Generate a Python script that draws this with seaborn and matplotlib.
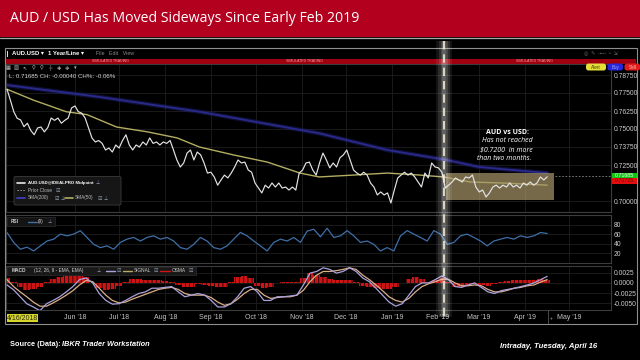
import numpy as np
import pandas as pd
import matplotlib
matplotlib.use("Agg")
import matplotlib.pyplot as plt
import matplotlib.dates as mdates
from matplotlib.patches import Rectangle, FancyBboxPatch
import seaborn as sns

# ---------------- data ----------------
start_date = "2018-04-16"
end_date = "2019-04-16"

price = [0.7776, 0.7700, 0.7620, 0.7574, 0.7563, 0.7516, 0.7540, 0.7490, 0.7460, 0.7507,
         0.7514, 0.7480, 0.7510, 0.7576, 0.7560, 0.7576, 0.7540, 0.7560, 0.7576, 0.7646,
         0.7660, 0.7620, 0.7610, 0.7576, 0.7507, 0.7438, 0.7410, 0.7420, 0.7400, 0.7354,
         0.7368, 0.7340, 0.7389, 0.7368, 0.7420, 0.7460, 0.7389, 0.7354, 0.7389, 0.7375,
         0.7410, 0.7389, 0.7438, 0.7400, 0.7410, 0.7389, 0.7410, 0.7400, 0.7420, 0.7354,
         0.7285, 0.7236, 0.7264, 0.7333, 0.7354, 0.7285, 0.7340, 0.7320, 0.7264, 0.7194,
         0.7200, 0.7167, 0.7110, 0.7146, 0.7180, 0.7160, 0.7194, 0.7236, 0.7285, 0.7264,
         0.7270, 0.7215, 0.7200, 0.7125, 0.7090, 0.7056, 0.7110, 0.7090, 0.7125, 0.7097,
         0.7125, 0.7090, 0.7097, 0.7076, 0.7097, 0.7076, 0.7194, 0.7215, 0.7264, 0.7270,
         0.7215, 0.7180,
         0.7264, 0.7333, 0.7285, 0.7230, 0.7264, 0.7236, 0.7300, 0.7320, 0.7354, 0.7285,
         0.7215, 0.7194, 0.7180, 0.7200, 0.7180, 0.7125, 0.7097, 0.7042, 0.7063, 0.7042,
         0.7056, 0.6986, 0.7076, 0.7160, 0.7180, 0.7200, 0.7180, 0.7194, 0.7167, 0.7132,
         0.7097, 0.7194, 0.7160, 0.7264, 0.7236, 0.7230, 0.7200, 0.7090, 0.7110, 0.7132,
         0.7160, 0.7146, 0.7132, 0.7167, 0.7160, 0.7180, 0.7097, 0.7063, 0.7076, 0.7028,
         0.7056, 0.7097, 0.7110, 0.7090, 0.7110, 0.7097, 0.7125, 0.7097, 0.7110, 0.7090,
         0.7125, 0.7110, 0.7132, 0.7110, 0.7125, 0.7167, 0.7146, 0.7168]

sma50_dates = ["2018-04-16", "2018-05-04", "2018-05-26", "2018-06-09", "2018-06-29",
               "2018-07-20", "2018-08-09", "2018-08-24", "2018-09-16", "2018-10-09",
               "2018-10-31", "2018-11-13", "2018-12-06", "2018-12-29", "2019-01-20",
               "2019-02-05", "2019-02-23", "2019-03-17", "2019-04-16"]
sma50 = [0.7776, 0.7700, 0.7620, 0.7600, 0.7514, 0.7480, 0.7438, 0.7375, 0.7320, 0.7270,
         0.7194, 0.7167, 0.7180, 0.7194, 0.7180, 0.7167, 0.7132, 0.7125, 0.7110]

sma200_dates = ["2018-04-12", "2018-06-18", "2018-08-24", "2018-11-13", "2018-12-29",
                "2019-02-07", "2019-03-01", "2019-04-16"]
sma200 = [0.7810, 0.7722, 0.7620, 0.7470, 0.7354, 0.7285, 0.7236, 0.7194]

rsi = [64, 43, 28.6, 33, 25, 35.7, 46, 50, 60.7, 57, 60.7, 67.8, 53.6, 39, 32, 35.7,
       28.6, 43, 50, 53.6, 46, 53.6, 57, 50, 53.6, 46, 32, 28.6, 39, 53.6, 46, 32, 28.6,
       35.7, 50, 64.3, 57, 46, 35.7, 25, 43, 50, 46, 53.6, 43, 67, 71, 55,
       73, 53.6, 57, 68, 57, 43, 46, 39, 25, 32, 25, 57, 68, 60.7, 53.6, 46, 68, 60.7,
       39, 43, 57, 60.7, 53.6, 46, 35.7, 46, 50, 53.6, 50, 57, 53.6, 57, 64, 62]

macd = [-0.0005, -0.0017, -0.0034, -0.0051, -0.0059, -0.0068, -0.0051, -0.0043, -0.0034, -0.0022,
        -0.0009, 0.0008, 0.0012, 0.0000, -0.0026, -0.0043, -0.0052, -0.0051, -0.0043, -0.0034,
        -0.0026, -0.0022, -0.0013, -0.0013, -0.0011, -0.0009, -0.0022, -0.0034, -0.0030, -0.0026,
        -0.0030, -0.0043, -0.0059, -0.0059, -0.0051, -0.0034, -0.0013, -0.0009, -0.0022, -0.0043,
        -0.0043, -0.0034, -0.0034, -0.0032, -0.0030, -0.0005, 0.0024, 0.0028,
        0.0037, 0.0033, 0.0024, 0.0028, 0.0037, 0.0028, 0.0012, 0.0003, -0.0013, -0.0030,
        -0.0047, -0.0057, -0.0051, -0.0030, -0.0009, 0.0000, 0.0000, 0.0008, 0.0017, 0.0008,
        -0.0009, -0.0011, -0.0005, 0.0000, -0.0011, -0.0022, -0.0026, -0.0019, -0.0016, -0.0013,
        -0.0009, -0.0005, 0.0000, 0.0008, 0.0016]

signal = [0.0008, -0.0009, -0.0022, -0.0034, -0.0047, -0.0057, -0.0057, -0.0049, -0.0040, -0.0030,
          -0.0019, -0.0005, 0.0006, 0.0003, -0.0013, -0.0030, -0.0043, -0.0049, -0.0047, -0.0040,
          -0.0034, -0.0028, -0.0022, -0.0016, -0.0013, -0.0011, -0.0016, -0.0026, -0.0030, -0.0030,
          -0.0030, -0.0036, -0.0047, -0.0055, -0.0051, -0.0040, -0.0026, -0.0016, -0.0016, -0.0030,
          -0.0038, -0.0036, -0.0034, -0.0034, -0.0030, -0.0018, 0.0003, 0.0019,
          0.0028, 0.0028, 0.0030, 0.0033, 0.0037, 0.0033, 0.0019, 0.0008, -0.0005, -0.0019,
          -0.0034, -0.0043, -0.0047, -0.0038, -0.0022, -0.0009, -0.0002, 0.0003, 0.0009, 0.0009,
          0.0000, -0.0007, -0.0007, -0.0005, -0.0007, -0.0016, -0.0022, -0.0022, -0.0018, -0.0013,
          -0.0011, -0.0007, -0.0005, 0.0002, 0.0008]

osma = [0.0012, 0.0003, -0.0011, -0.0017, -0.0016, -0.0011, 0.0003, 0.0009, 0.0014, 0.0016,
        0.0016, 0.0018, 0.0014, 0.0000, -0.0013, -0.0017, -0.0016, -0.0008, 0.0003, 0.0009,
        0.0009, 0.0008, 0.0008, 0.0006, 0.0004, 0.0003, -0.0005, -0.0011, -0.0009, -0.0002,
        -0.0005, -0.0008, -0.0011, -0.0011, 0.0003, 0.0014, 0.0018, 0.0012, -0.0008, -0.0013,
        -0.0009, 0.0000, 0.0001, 0.0002, 0.0003, 0.0012, 0.0025, 0.0020,
        0.0014, 0.0009, 0.0008, 0.0006, 0.0008, 0.0001, -0.0008, -0.0011, -0.0013, -0.0016,
        -0.0016, -0.0011, 0.0000, 0.0009, 0.0014, 0.0009, 0.0003, 0.0008, 0.0012, 0.0001,
        -0.0011, -0.0011, -0.0005, -0.0002, -0.0005, -0.0008, -0.0002, 0.0003, 0.0005, 0.0006,
        0.0006, 0.0006, 0.0008, 0.0009, 0.0008]

last_price = 0.71685
prior_close = 0.71725
box_low, box_high = 0.7007, 0.7194

month_ticks = ["2018-06-01", "2018-07-01", "2018-08-01", "2018-09-01", "2018-10-01",
               "2018-11-01", "2018-12-01", "2019-01-01", "2019-02-01", "2019-03-01",
               "2019-04-01", "2019-05-01"]
month_labels = ["Jun '18", "Jul '18", "Aug '18", "Sep '18", "Oct '18", "Nov '18",
                "Dec '18", "Jan '19", "Feb '19", "Mar '19", "Apr '19", "May '19"]
price_ticks = [0.7875, 0.7750, 0.7625, 0.7500, 0.7375, 0.7250, 0.7000]
rsi_ticks = [20, 40, 60, 80]
macd_ticks = [0.0025, 0.0, -0.0025, -0.0050]
macd_labels = ["0.0025", "0.0000", "-0.0025", "-0.0050"]

# ---------------- style ----------------
sns.set_style("dark")
plt.rcParams["font.family"] = ["Liberation Sans", "DejaVu Sans"]
plt.rcParams["hatch.linewidth"] = 0.5

W, H = 640, 360
fig = plt.figure(figsize=(W / 100, H / 100), dpi=100, facecolor="black")


def rect(x0, y0, x1, y1):
    return [x0 / W, 1 - y1 / H, (x1 - x0) / W, (y1 - y0) / H]


# background layer
bg = fig.add_axes([0, 0, 1, 1], zorder=0)
bg.set_xlim(0, W)
bg.set_ylim(H, 0)
bg.set_facecolor("black")
bg.axis("off")
bg.add_patch(Rectangle((0, 0), W, 37, color="#b3001e", lw=0))
bg.plot([0, W], [37.6, 37.6], color="#a8a8a8", lw=0.9)
bg.text(10, 18.5, "AUD / USD Has Moved Sideways Since Early Feb 2019", color="white",
        fontsize=10.2, family=["Open Sans", "DejaVu Sans"], va="center", ha="left")
bg.add_patch(Rectangle((5, 48), 632, 276, fill=False, ec="#8e8e8e", lw=0.8))
bg.add_patch(Rectangle((6, 59), 630, 4.5, color="#a0000f", lw=0))
for x in (110, 305, 535):
    bg.text(x, 61.3, "SIMULATED TRADING", fontsize=2.6, color="#f0a0a0", ha="center", va="center")

# ---------------- panels ----------------
t0 = pd.Timestamp(start_date)
t1 = pd.Timestamp(end_date)
px_per_day = 1.48


def day(d):
    return t0 + pd.Timedelta(days=d)


xmin = day(-1 / px_per_day)
xmax = day((611 - 7) / px_per_day)

ax_p = fig.add_axes(rect(6, 64, 611, 212), zorder=1)
ax_r = fig.add_axes(rect(6, 215, 611, 263), zorder=1, sharex=ax_p)
ax_m = fig.add_axes(rect(6, 266, 611, 310), zorder=1, sharex=ax_p)

df_p = pd.DataFrame({"date": pd.date_range(t0, t1, periods=len(price)), "value": price})
df_s50 = pd.DataFrame({"date": pd.to_datetime(sma50_dates), "value": sma50})
df_s200 = pd.DataFrame({"date": pd.to_datetime(sma200_dates), "value": sma200})
df_rsi = pd.DataFrame({"date": pd.date_range(t0, t1, periods=len(rsi)), "value": rsi})
ind_dates = pd.date_range(t0, t1, periods=len(macd))
df_macd = pd.DataFrame({"date": ind_dates, "macd": macd, "signal": signal, "osma": osma})

# price panel
sns.lineplot(data=df_s200, x="date", y="value", ax=ax_p, color="#22227a", lw=3.2, alpha=0.45,
             estimator=None, zorder=2)
sns.lineplot(data=df_s200, x="date", y="value", ax=ax_p, color="#2a2a8c", lw=1.3,
             estimator=None, zorder=2)
sns.lineplot(data=df_s50, x="date", y="value", ax=ax_p, color="#b3ae62", lw=1.0,
             estimator=None, zorder=3)
sns.lineplot(data=df_p, x="date", y="value", ax=ax_p, color="#e4e4e4", lw=0.85,
             estimator=None, zorder=4)
ax_p.add_patch(Rectangle((mdates.date2num(day(296.6)), box_low), 73.0, box_high - box_low,
                         facecolor="#a8976a", alpha=0.7, lw=0, zorder=3.5))
ax_p.hlines(prior_close, day(370), xmax, color="#8a8a8a", lw=0.6, linestyles=(0, (2, 2)), zorder=3)
ax_p.set_ylim(0.70 - 11 / 1440, 0.70 + 137 / 1440)
ax_p.set_yticks(price_ticks)
ax_p.set_yticklabels([f"{v:.5f}" for v in price_ticks])

# RSI panel
sns.lineplot(data=df_rsi, x="date", y="value", ax=ax_r, color="#3f6fa8", lw=0.9, estimator=None)
ax_r.set_ylim(-0.6, 101.2)
ax_r.set_yticks(rsi_ticks)

# MACD panel (OSMA histogram: red bars with thin dark stripes)
ax_m.bar(df_macd["date"], df_macd["osma"], width=365 / (len(osma) - 1), facecolor="#cc1414",
         edgecolor="black", hatch="||||", lw=0, zorder=2)
sns.lineplot(data=df_macd, x="date", y="signal", ax=ax_m, color="#dcae8a", lw=0.9,
             estimator=None, zorder=3)
sns.lineplot(data=df_macd, x="date", y="macd", ax=ax_m, color="#aaa2dc", lw=0.9,
             estimator=None, zorder=3)
ax_m.set_ylim(-0.00664, 0.00414)
ax_m.set_yticks(macd_ticks)
ax_m.set_yticklabels(macd_labels)

for ax in (ax_p, ax_r, ax_m):
    ax.set_facecolor("black")
    for s in ax.spines.values():
        s.set_visible(True)
        s.set_color("#3c3c3c")
        s.set_linewidth(0.8)
    ax.grid(True, color="#1e1e1e", lw=0.6)
    ax.yaxis.tick_right()
    ax.tick_params(axis="y", length=0, pad=2, labelsize=4.9, labelcolor="#cccccc",
                   labelleft=False, labelright=True)
    ax.tick_params(axis="x", length=0)
    ax.set_xlabel("")
    ax.set_ylabel("")

ax_m.set_xticks(pd.to_datetime(month_ticks))
ax_m.set_xticklabels(month_labels)
ax_m.tick_params(axis="x", labelsize=5, labelcolor="#c4c4c4", pad=3.2)
ax_p.tick_params(axis="x", labelbottom=False)
ax_r.tick_params(axis="x", labelbottom=False)
ax_p.set_xlim(xmin, xmax)

# ---------------- overlay ----------------
ov = fig.add_axes([0, 0, 1, 1], zorder=10)
ov.set_xlim(0, W)
ov.set_ylim(H, 0)
ov.axis("off")
ov.patch.set_visible(False)

# glowing dashed marker line
gx = 444
for w, a in ((16, 0.08), (11, 0.11), (7, 0.13), (4, 0.14)):
    ov.add_patch(Rectangle((gx - w / 2, 41), w, 276, color="white", alpha=a, lw=0))
ov.plot([gx, gx], [41, 317], color="#f4ecd2", lw=1.2, dashes=(5, 3))

# toolbar
ov.add_patch(Rectangle((6.5, 50.5), 1.5, 6, color="#e0e0e0", lw=0))
ov.text(12, 53.7, "AUD.USD \u25be", fontsize=4.3, color="white", weight="bold", va="center")
ov.text(48, 53.7, "1 Year/Line \u25be", fontsize=4.3, color="white", weight="bold", va="center")
ov.text(96, 53.7, "File   Edit   View", fontsize=3.8, color="#8a8a8a", va="center")
ov.text(584, 53.7, "\u25ce  \u270e  -\u22b7-  \u25ab  \u21f2", fontsize=3.6, color="#6a6a6a", va="center")
icons = ["\u25a6", "\u25a7", "\u2196", "\u26b2", "\u26b2", "\u253c", "\u271a", "\u2725", "\u25be"]
for i, ic in enumerate(icons):
    ov.text(8 + i * 8.4, 68, ic, fontsize=3.8, color="#b8b8b8", ha="center", va="center")
ov.text(7, 76.5, "\u00b7L: 0.71685 CH: -0.00040 CH%: -0.06%", fontsize=4.4, color="#d4d4d4", va="center")

# order buttons
for x0, x1, fc, lab, tc in ((586, 606, "#e4df3a", "Alert", "#3a3a00"),
                            (607.5, 623, "#2626dc", "Buy", "#a8a8ff"),
                            (624.5, 640, "#de1e1e", "Sell", "#ffc0c0")):
    ov.add_patch(FancyBboxPatch((x0, 63.5), x1 - x0, 7, boxstyle="round,pad=0,rounding_size=2.5",
                                fc=fc, ec="none"))
    ov.text((x0 + x1) / 2, 67.2, lab, fontsize=3.3, color=tc, ha="center", va="center")

# last / prior close boxes
ov.add_patch(Rectangle((612, 172.5), 25, 5.5, color="#14c414", lw=0))
ov.text(624.5, 175.3, f"{last_price:.5f}", fontsize=3.8, color="#eaffea", ha="center", va="center")
ov.add_patch(Rectangle((612, 178), 25, 6, color="#e01010", lw=0))
ov.text(624.5, 181, f"{prior_close:.5f}", fontsize=3.8, color="#7a0000", ha="center", va="center")

# legend box
ov.add_patch(FancyBboxPatch((14, 176.5), 107, 28.5, boxstyle="round,pad=0,rounding_size=1.5",
                            fc="#161616", ec="#3c3c3c", lw=0.6))
ov.plot([17, 25], [183, 183], color="#e8e8e8", lw=1.2)
ov.text(27.5, 183, "AUD.USD@IDEALPRO Midpoint", fontsize=3.2, color="white", weight="bold", va="center")
ov.text(96, 183, "\u22a5", fontsize=3.4, color="#9fb0c8", va="center")
ov.plot([17, 25], [190, 190], color="#9a9a9a", lw=0.7, ls=(0, (1.5, 1.5)))
ov.text(27.5, 190, "Prior Close", fontsize=3.4, color="#bdbdbd", va="center")
ov.text(56, 190, "\u2611", fontsize=3.6, color="#9fb0c8", va="center")
ov.plot([17, 25], [198, 198], color="#3a3ab0", lw=1.4)
ov.text(27.5, 198, "SMA(200)", fontsize=3.4, color="#bdbdbd", va="center")
ov.text(55, 198, "\u2611", fontsize=3.6, color="#9fb0c8", va="center")
ov.text(60.5, 198, "\u22a5", fontsize=3.4, color="#9fb0c8", va="center")
ov.plot([65, 73], [198, 198], color="#b3ae62", lw=1.2)
ov.text(75, 198, "SMA(50)", fontsize=3.4, color="#bdbdbd", va="center")
ov.text(98, 198, "\u2611", fontsize=3.6, color="#9fb0c8", va="center")
ov.text(104, 198, "\u22a5", fontsize=3.4, color="#9fb0c8", va="center")

# annotation
afam = ["Open Sans", "DejaVu Sans"]
ov.text(507, 132, "AUD vs USD:", fontsize=5.0, color="white", weight="bold", ha="center", va="center", family=afam)
ov.text(507, 140.7, "Has not reached", fontsize=5.0, color="white", style="italic", ha="center", va="center", family=afam)
ov.text(506, 150, "$0.7200  in more", fontsize=5.0, color="white", style="italic", ha="center", va="center", family=afam)
ov.text(504, 159, "than two months.", fontsize=5.0, color="white", style="italic", ha="center", va="center", family=afam)

# RSI header
ov.add_patch(Rectangle((7, 217), 48, 9, fc="#141414", ec="#2e2e2e", lw=0.5))
ov.text(11, 221.5, "RSI", fontsize=3.4, color="#d0d0d0", weight="bold", va="center")
ov.plot([28, 37], [221.5, 221.5], color="#3f6fa8", lw=1.0)
ov.text(38, 221.5, "(9)", fontsize=3.4, color="#d0d0d0", va="center")
ov.text(48, 221.5, "\u22a5", fontsize=3.4, color="#9fb0c8", va="center")

# MACD header
ov.add_patch(Rectangle((7, 267), 189, 7.5, fc="#181818", ec="#2e2e2e", lw=0.5))
ov.text(12, 270.7, "MACD", fontsize=3.4, color="#d0d0d0", weight="bold", va="center")
ov.text(34, 270.7, "(12, 26, 9 - EMA, EMA)", fontsize=3.4, color="#d0d0d0", va="center")
ov.text(96.5, 270.7, "\u22a5", fontsize=3.4, color="#9fb0c8", va="center")
ov.plot([106, 115], [270.7, 270.7], color="#aaa2dc", lw=1.0)
ov.text(116.5, 270.7, "\u2611", fontsize=3.6, color="#9fb0c8", va="center")
ov.plot([123, 132], [270.7, 270.7], color="#b3ae62", lw=1.0)
ov.text(133.5, 270.7, "SIGNAL", fontsize=3.4, color="#d0d0d0", va="center")
ov.text(154, 270.7, "\u2611", fontsize=3.6, color="#9fb0c8", va="center")
ov.plot([160, 170], [270.7, 270.7], color="#d01515", lw=1.0)
ov.text(171.5, 270.7, "OSMA", fontsize=3.4, color="#d0d0d0", va="center")
ov.text(189, 270.7, "\u2611", fontsize=3.6, color="#9fb0c8", va="center")

# date row extras
ov.add_patch(Rectangle((7, 313.5), 31, 8.5, color="#d6d62a", lw=0))
ov.text(22.5, 318, "4/16/2018", fontsize=5, color="#2a2a10", ha="center", va="center")
ov.plot([548, 548], [310, 323], color="#4a4a4a", lw=0.7)
ov.text(551, 318.5, "+", fontsize=3.5, color="#aaaaaa", ha="center", va="center")

# footer
ov.text(10, 345, "Source (Data):", fontsize=5.3, color="white", weight="bold", va="center")
ov.text(62, 345, "IBKR Trader Workstation", fontsize=5.3, color="white", weight="bold",
        style="italic", va="center")
ov.text(500, 346.5, "Intraday, Tuesday, April 16", fontsize=5.6, color="white", weight="bold",
        style="italic", va="center")

fig.savefig("out.png", dpi=100, facecolor="black")
